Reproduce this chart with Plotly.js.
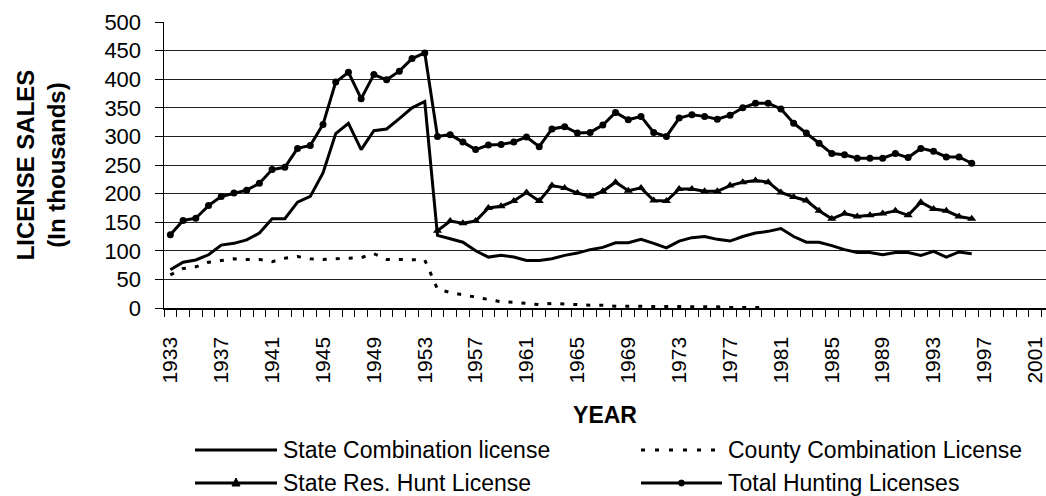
<!DOCTYPE html>
<html><head><meta charset="utf-8">
<script src="https://cdn.plot.ly/plotly-3.0.1.min.js"></script>
<style>html,body{margin:0;padding:0;background:#fff;}#chart{width:1046px;height:496px;}</style>
</head><body><div id="chart"></div>
<script>
// ---- data (license sales, thousands) ----
const years = [1933,1934,1935,1936,1937,1938,1939,1940,1941,1942,1943,1944,1945,1946,1947,1948,1949,1950,1951,1952,1953,
  1954,1955,1956,1957,1958,1959,1960,1961,1962,1963,1964,1965,1966,1967,1968,1969,1970,1971,1972,1973,1974,1975,1976,1977,
  1978,1979,1980,1981,1982,1983,1984,1985,1986,1987,1988,1989,1990,1991,1992,1993,1994,1995,1996];
const stateCombination = [67,80,84,93,110,113,119,131,156,156,185,195,236,305,323,277,310,313,331,350,361,
  127,121,115,100,89,92,89,83,83,86,92,96,102,106,114,114,120,113,105,117,123,125,120,117,
  125,131,134,139,125,115,115,109,102,97,97,93,97,97,92,99,89,98,95];
const countyYears = [1933,1934,1935,1936,1937,1938,1939,1940,1941,1942,1943,1944,1945,1946,1947,1948,1949,1950,1951,1952,1953,
  1954,1955,1956,1957,1958,1959,1960,1961,1962,1963,1964,1965,1966,1967,1968,1969,1970,1971,1972,1973,1974,1975,1976,1977,
  1978,1979,1980];
const countyCombination = [58,69,72,80,83,86,85,85,81,87,90,86,85,86,86,88,95,85,85,85,84,
  33,27,23,19,14,11,10,8,6,8,7,5,5,5,3,3,3,2,2,2,2,2,2,1,
  1,1,1];
const resYears = [1954,1955,1956,1957,1958,1959,1960,1961,1962,1963,1964,1965,1966,1967,1968,1969,1970,1971,1972,1973,1974,
  1975,1976,1977,1978,1979,1980,1981,1982,1983,1984,1985,1986,1987,1988,1989,1990,1991,1992,1993,1994,1995,1996];
const stateResHunt = [135,152,148,152,175,178,187,202,187,214,210,201,195,204,220,205,210,188,187,208,208,
  204,204,214,220,223,220,202,194,188,170,156,165,160,162,165,170,162,185,173,170,160,156];
const totalHunting = [128,153,157,179,195,201,206,218,242,246,279,284,321,395,412,366,408,399,414,436,446,
  300,303,290,277,285,286,290,299,282,313,317,306,307,320,342,329,335,307,300,332,338,335,330,337,
  350,358,358,348,323,306,288,270,268,262,262,262,270,263,279,274,264,264,253];
const tickYears = [1933,1937,1941,1945,1949,1953,1957,1961,1965,1969,1973,1977,1981,1985,1989,1993,1997,2001];
const seriesNames = ['State Combination license','County Combination License','State Res. Hunt License','Total Hunting Licenses'];

// ---- layout helpers ----
const W = 1046, H = 496, ML = 164, MR = 0, MT = 22, MB = 188;
const pw = W - ML - MR, ph = H - MT - MB;
const px = x => (x - ML) / pw;
const py = y => (H - MB - y) / ph;
const FONT = 'Liberation Sans, Arial, sans-serif';

const traces = [
  {x: countyYears, y: countyCombination, name: seriesNames[1], mode: 'lines',
   line: {color: '#000', width: 3, dash: '4px,9px'}},
  {x: years, y: stateCombination, name: seriesNames[0], mode: 'lines',
   line: {color: '#000', width: 3}},
  {x: resYears, y: stateResHunt, name: seriesNames[2], mode: 'lines+markers',
   line: {color: '#000', width: 3}, marker: {symbol: 'triangle-up', size: 8, color: '#000'}},
  {x: years, y: totalHunting, name: seriesNames[3], mode: 'lines+markers',
   line: {color: '#000', width: 3}, marker: {symbol: 'circle', size: 7, color: '#000'}}
];

// custom legend (Excel style long samples)
const legRows = [450, 483];
const legItems = [
  {name: seriesNames[0], x0: 195, x1: 277, y: legRows[0], dash: 'solid', mk: null},
  {name: seriesNames[1], x0: 641, x1: 722, y: legRows[0], dash: '4px,10px', mk: null},
  {name: seriesNames[2], x0: 195, x1: 277, y: legRows[1], dash: 'solid', mk: 'tri'},
  {name: seriesNames[3], x0: 641, x1: 722, y: legRows[1], dash: 'solid', mk: 'dot'}
];
const shapes = [], annotations = [];
legItems.forEach(it => {
  shapes.push({type: 'line', xref: 'paper', yref: 'paper', x0: px(it.x0), x1: px(it.x1), y0: py(it.y), y1: py(it.y),
    line: {color: '#000', width: 3, dash: it.dash}});
  const cx = (it.x0 + it.x1) / 2;
  if (it.mk === 'tri') {
    shapes.push({type: 'path', xref: 'paper', yref: 'paper', fillcolor: '#000', line: {color: '#000', width: 1},
      path: `M${px(cx-4)},${py(it.y+3)} L${px(cx+4)},${py(it.y+3)} L${px(cx)},${py(it.y-5)} Z`});
  } else if (it.mk === 'dot') {
    shapes.push({type: 'circle', xref: 'paper', yref: 'paper', fillcolor: '#000', line: {color: '#000', width: 1},
      x0: px(cx-3), x1: px(cx+3), y0: py(it.y+3), y1: py(it.y-3)});
  }
  annotations.push({xref: 'paper', yref: 'paper', x: px(it.x1 + 4), y: py(it.y), xanchor: 'left', yanchor: 'middle',
    text: it.name, showarrow: false, font: {family: FONT, size: 23, color: '#000'}});
});

const layout = {
  width: W, height: H,
  margin: {l: ML, r: MR, t: MT, b: MB, pad: 0},
  paper_bgcolor: '#fff', plot_bgcolor: '#fff',
  font: {family: FONT, color: '#000'},
  showlegend: false,
  xaxis: {
    range: [1932.5, 2001.84], tickmode: 'array', tickvals: tickYears, ticktext: tickYears.map(String),
    tickangle: -90, ticks: '', ticklabelstandoff: 19, ticklabeloverflow: 'allow', tickfont: {size: 21, color: '#000'},
    showline: true, linecolor: '#000', linewidth: 1.5, showgrid: false, zeroline: false,
    minor: {ticks: 'outside', tickmode: 'linear', tick0: 1932.5, dtick: 1, ticklen: 7, tickcolor: '#000', tickwidth: 1, showgrid: false},
    title: {text: '<b>YEAR</b>', font: {family: FONT, size: 23, color: '#000'}, standoff: 24}
  },
  yaxis: {
    range: [0, 500], tickmode: 'linear', tick0: 0, dtick: 50,
    ticks: 'outside', ticklen: 8, tickcolor: '#000', tickwidth: 1, ticklabelstandoff: 9,
    tickfont: {size: 22, color: '#000'},
    showline: true, linecolor: '#000', linewidth: 1.5,
    showgrid: true, gridcolor: '#222', gridwidth: 1, zeroline: false,
    title: {text: '<b>LICENSE SALES<br>(In thousands)</b>', font: {family: FONT, size: 24, color: '#000'}, standoff: 32}
  },
  shapes: shapes,
  annotations: annotations
};

Plotly.newPlot('chart', traces, layout, {staticPlot: true, displayModeBar: false});
</script>
</body></html>
